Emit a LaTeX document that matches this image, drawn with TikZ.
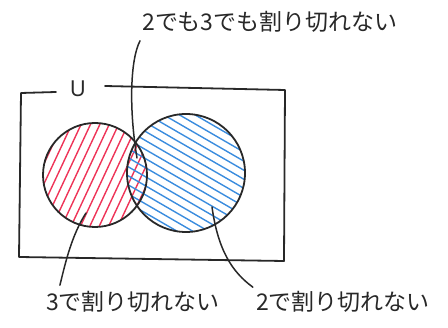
\documentclass[tikz,border=0pt]{standalone}
\usepackage{fontspec}
\newfontfamily\jp{Noto Sans CJK JP}
\newfontfamily\lat{Noto Sans}
\definecolor{hred}{RGB}{238,52,88}
\definecolor{hblue}{RGB}{58,140,222}
\definecolor{ink}{RGB}{40,40,40}
\begin{document}
\begin{tikzpicture}[x=1pt,y=-1pt,
  ink/.style={draw=ink,line width=1.8pt,line cap=round,line join=round},
  lead/.style={draw=ink,line width=1.5pt,line cap=round},
  redh/.style={draw=hred,line width=1.4pt,line cap=round},
  blueh/.style={draw=hblue,line width=1.4pt,line cap=round},
  lab/.style={font=\jp\fontsize{23}{23}\selectfont,text=ink,inner sep=0pt}]
\useasboundingbox (0,0) rectangle (448,328);
% hatching
\begin{scope}
  \clip (95,175) circle (52);
  \foreach \k in {-8,...,8}
    \draw[redh] (95+\k*7.7,175+\k*3.6) ++(-25.4,54.4) -- ++(50.8,-108.8);
\end{scope}
\begin{scope}
  \clip (186,173) circle (59);
  \foreach \k in {-9,...,9}
    \draw[blueh] (186-3.9*\k,173+6.8*\k) ++(-60.6,-35) -- ++(121.2,70);
\end{scope}
% universe rectangle with gap for U
\draw[ink] (56,92) -- (21,93) -- (19,257) -- (284,261) -- (285,90) -- (105,86);
\node[font=\lat\fontsize{22}{22}\selectfont,text=ink,inner sep=0pt] (U) at (78,89) {U};
% circles
\draw[ink] (95,175) circle (52);
\draw[ink] (186,173) circle (59);
% labels
\node[lab] (top) at (270,22) {2でも3でも割り切れない};
\node[lab] (bl) at (133,302) {3で割り切れない};
\node[lab] (br) at (343,302) {2で割り切れない};
\coordinate (i1) at (137,158);
\coordinate (a) at (86,213);
\coordinate (b) at (212,207);
\draw[lead] (i1) .. controls (129,110) and (130,60) .. ([xshift=-2pt,yshift=-8pt]top.south west);
\draw[lead] (a) .. controls (72,235) and (66,260) .. ([xshift=14pt,yshift=6pt]bl.north west);
\draw[lead] (b) .. controls (218,250) and (232,272) .. ([xshift=-3pt,yshift=4pt]br.north west);
\end{tikzpicture}
\end{document}
